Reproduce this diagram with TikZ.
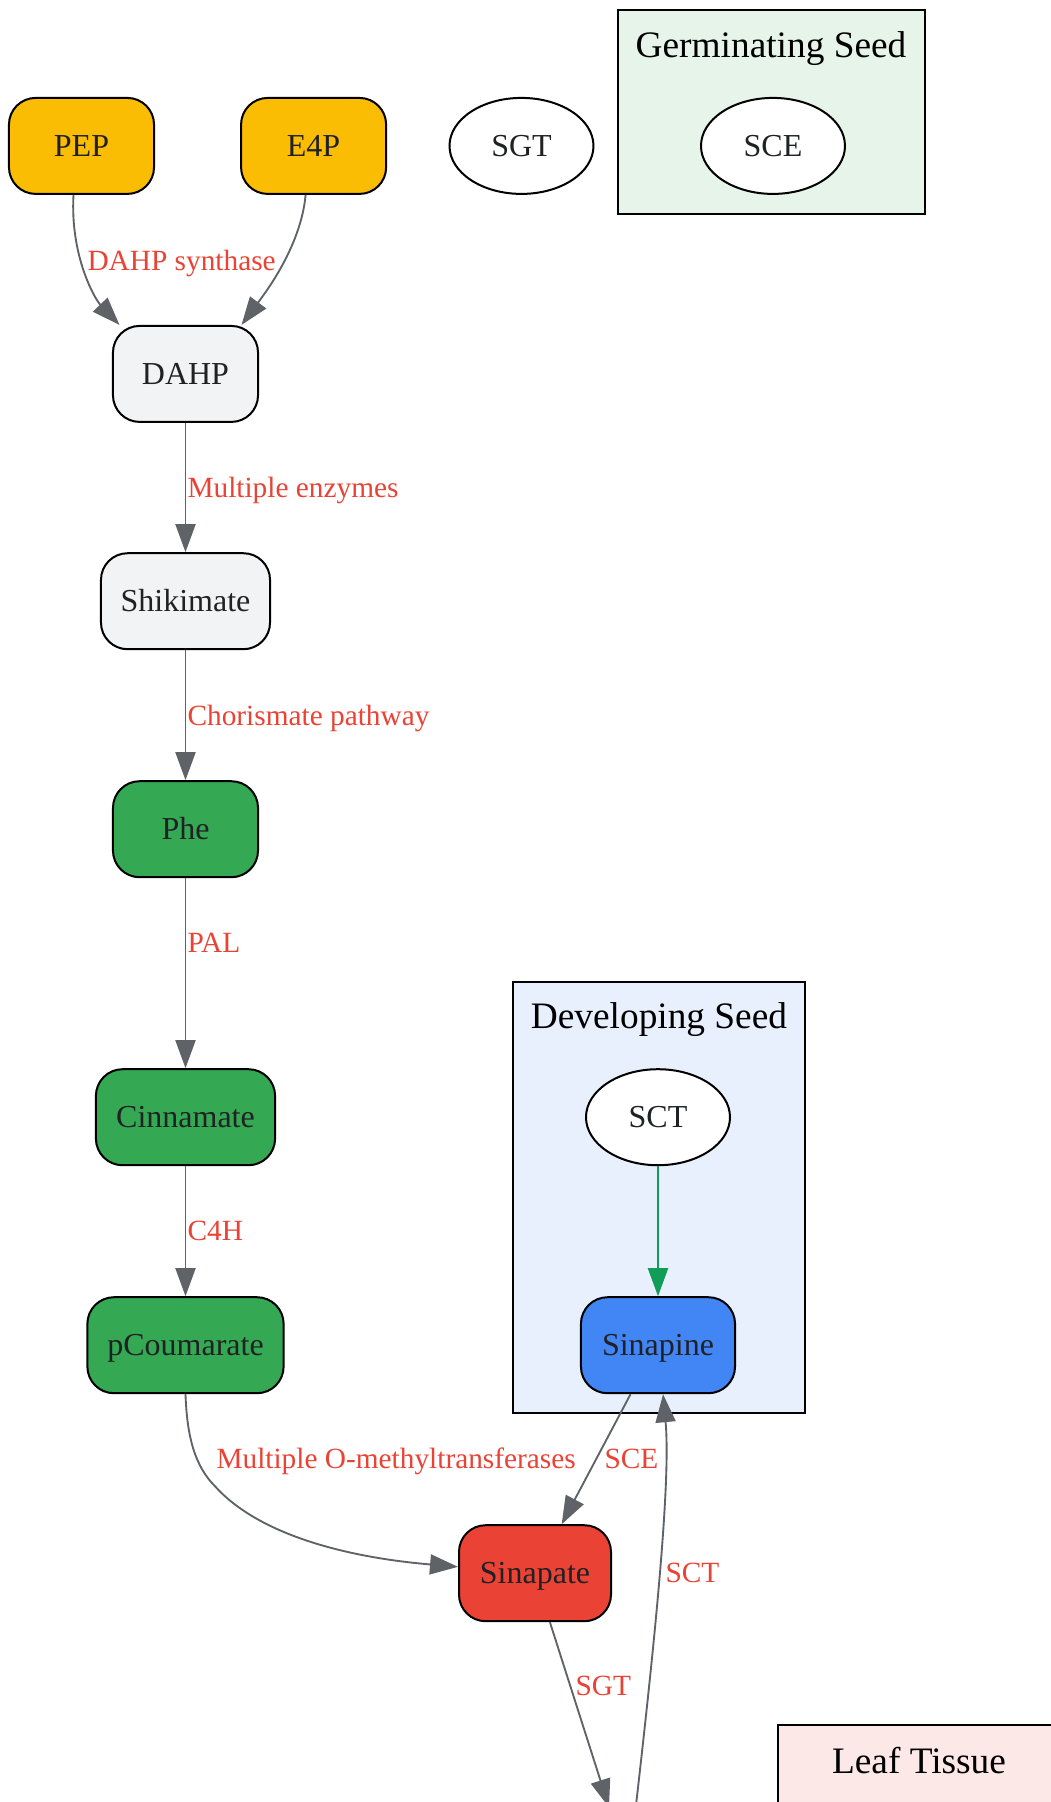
\documentclass[tikz,border=0pt]{standalone}
\usepackage{fontspec}
\setmainfont{Liberation Serif}
\usetikzlibrary{arrows.meta,shapes.geometric,calc}
\definecolor{txt}{HTML}{202124}
\definecolor{lab}{HTML}{EA4335}
\definecolor{edg}{HTML}{5F6368}
\definecolor{grn}{HTML}{0F9D58}
\definecolor{yel}{HTML}{FBBC04}
\definecolor{gry}{HTML}{F1F3F4}
\definecolor{gnode}{HTML}{34A853}
\definecolor{bnode}{HTML}{4285F4}
\definecolor{rnode}{HTML}{EA4335}
\definecolor{germ}{HTML}{E6F4EA}
\definecolor{dev}{HTML}{E8F0FE}
\definecolor{leaf}{HTML}{FCE8E6}
\begin{document}
\begin{tikzpicture}[x=0.375pt,y=-0.375pt,
  box/.style={draw=black,line width=0.75pt,rounded corners=10pt,minimum height=36pt,inner sep=0pt,
    font=\fontsize{12}{14}\selectfont,text=txt,text height=7.94pt,text depth=0pt},
  oval/.style={ellipse,draw=black,line width=0.75pt,fill=white,minimum width=54pt,minimum height=36pt,inner sep=0pt,
    font=\fontsize{12}{14}\selectfont,text=txt,text height=7.94pt,text depth=0pt},
  cluster/.style={draw=black,line width=0.75pt},
  ctitle/.style={font=\fontsize{14}{16}\selectfont,text=black,text height=9.27pt,text depth=0pt,inner sep=0pt},
  elab/.style={font=\fontsize{11}{13}\selectfont,text=lab,anchor=west,inner sep=0pt,text height=7.28pt,text depth=0pt},
  conn/.style={draw=edg,line width=0.7pt,-{Triangle[length=10.5pt,width=7.5pt]}},
]
\useasboundingbox (0,0) rectangle (1051,1802);
\clip (0,0) rectangle (1051,1802);
\fill[white] (0,0) rectangle (1051,1802);

% clusters
\draw[cluster,fill=germ] (618,10.3) rectangle (925,213.6);
\draw[cluster,fill=dev] (513,982) rectangle (805,1413);
\draw[cluster,fill=leaf] (777.6,1725) rectangle (1062,1900);

\begin{scope}[yshift=-0.45pt]
\node[ctitle] (germT) at (771,43.6) {Germinating Seed};
\node[ctitle] (devT) at (659,1015) {Developing Seed};
\node[ctitle] (leafT) at (919,1760) {Leaf Tissue};

% nodes
\node[box,fill=yel,minimum width=54.4pt] (PEP) at (81.5,144.7) {PEP};
\node[box,fill=yel,minimum width=54.4pt] (E4P) at (313.6,144.7) {E4P};
\node[oval] (SGT) at (521.5,144.7) {SGT};
\node[oval] (SCE) at (773,144.7) {SCE};
\node[box,fill=gry,minimum width=54.4pt] (DAHP) at (185.5,372.7) {DAHP};
\node[box,fill=gry,minimum width=63.4pt] (Shikimate) at (185.5,600) {Shikimate};
\node[box,fill=gnode,minimum width=54.4pt] (Phe) at (185.5,828) {Phe};
\node[box,fill=gnode,minimum width=67.2pt] (Cinnamate) at (185.5,1116) {Cinnamate};
\node[box,fill=gnode,minimum width=73.6pt] (pCoumarate) at (185.5,1344) {pCoumarate};
\node[oval] (SCT) at (658,1116) {SCT};
\node[box,fill=bnode,minimum width=57.8pt] (Sinapine) at (658,1344) {Sinapine};
\node[box,fill=rnode,minimum width=57pt] (Sinapate) at (535,1572) {Sinapate};

\coordinate (sgtEnd) at (609,1806);
\coordinate (sctStart) at (633,1830);

% edges
\draw[conn] ([xshift=-3pt]PEP.south) .. controls (70,255) and (95,298) .. ([xshift=-24.75pt]DAHP.north);
\draw[conn] ([xshift=-3pt]E4P.south) .. controls (301,245) and (265,292) .. ([xshift=21pt]DAHP.north);
\draw[conn] (DAHP) -- (Shikimate);
\draw[conn] (Shikimate) -- (Phe);
\draw[conn] (Phe) -- (Cinnamate);
\draw[conn] (Cinnamate) -- (pCoumarate);
\draw[conn] (pCoumarate.south) .. controls (187,1436) and (195,1465) .. (215,1485)
   .. controls (258,1533) and (345,1556) .. ([yshift=2.4pt]Sinapate.west);
\draw[conn,draw=grn,line width=0.8pt] (SCT) -- (Sinapine);
\draw[conn] ([xshift=-10.3pt]Sinapine.south) -- ([xshift=10pt]Sinapate.north);
\draw[conn] ([xshift=5.6pt]Sinapate.south) -- (sgtEnd);
\draw[conn] (sctStart) .. controls (655,1640) and (671,1480) .. ([xshift=1.9pt]Sinapine.south);

% edge labels
\node[elab] (l1) at (87,259.6) {DAHP synthase};
\node[elab] (l2) at (187,487) {Multiple enzymes};
\node[elab] (l3) at (187,714.4) {Chorismate pathway};
\node[elab] (l4) at (187,942) {PAL};
\node[elab] (l5) at (187,1230) {C4H};
\node[elab] (l6) at (216,1458) {Multiple O-methyltransferases};
\node[elab] (l7) at (604,1458) {SCE};
\node[elab] (l8) at (575,1685) {SGT};
\node[elab] (l9) at (665,1572) {SCT};
\end{scope}
\end{tikzpicture}
\end{document}
